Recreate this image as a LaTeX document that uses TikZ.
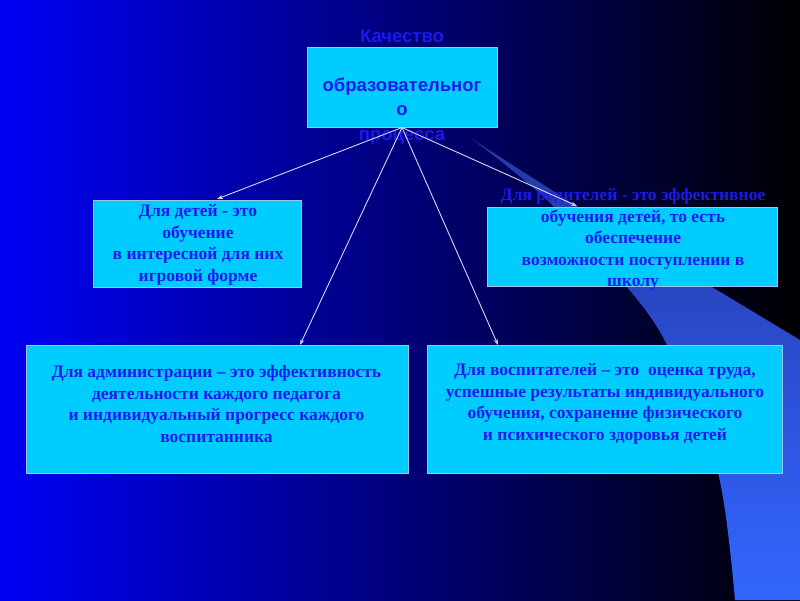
\documentclass[tikz,border=0pt]{standalone}
\usepackage{fontspec}
\setmainfont{Liberation Serif}
\newfontfamily\arialf{Liberation Sans}
\usetikzlibrary{arrows.meta}
\definecolor{boxfill}{RGB}{0,204,255}
\definecolor{boxline}{RGB}{150,200,240}
\definecolor{txtblue}{RGB}{26,26,238}
\definecolor{bgblue}{RGB}{0,0,245}
\definecolor{swtop}{RGB}{35,55,165}
\definecolor{swbot}{RGB}{51,102,255}
\definecolor{arrowc}{RGB}{215,215,240}
\tikzset{
  box/.style={draw=boxline, line width=1pt, fill=boxfill, rectangle, inner sep=0pt},
  serift/.style={text=txtblue, align=center, font=\fontsize{17.5}{21.6}\selectfont\bfseries, inner sep=0pt},
  sanst/.style={text=txtblue, align=center, font=\arialf\fontsize{18.5}{24.5}\selectfont\bfseries, inner sep=0pt},
  conn/.style={draw=arrowc, line width=0.9pt, -{Stealth[length=6pt,width=4pt]}},
  swoosh/.style={top color=swtop, bottom color=swbot}
}
\begin{document}
\begin{tikzpicture}[x=1pt,y=-1pt]
\useasboundingbox (0,0) rectangle (800,600);
\shade[left color=bgblue, right color=black] (0,0) rectangle (800,600);
% decorative swoosh
\fill[swoosh] (472,139) -- (575,205) -- (712,287) -- (800,340) -- (800,600) -- (735,600)
  -- plot[smooth] coordinates {(735,600) (718,473) (668,347) (627,287) (547,200) (472,139)} -- cycle;
% boxes
\node[box, minimum width=190pt, minimum height=80pt] (q) at (402,87) {};
\node[box, minimum width=208pt, minimum height=87pt] (kids) at (197,243.5) {};
\node[box, minimum width=290pt, minimum height=79pt] (par) at (632,246.5) {};
\node[box, minimum width=382pt, minimum height=128pt] (adm) at (217,409.5) {};
\node[box, minimum width=355pt, minimum height=128pt] (edu) at (604.5,409.5) {};
% texts
\node[sanst] (qt) at (402,87) {Качество\\ \\образовательног\\о\\процесса};
\node[serift] (kidst) at (198,245) {Для детей - это\\обучение\\в интересной для них\\игровой форме};
\node[serift] (part) at (633,239.5) {Для родителей - это эффективное\\обучения детей, то есть\\обеспечение\\возможности поступлении в\\школу};
\node[serift] (admt) at (216.5,404) {Для администрации -- это эффективность\\деятельности каждого педагога\\и индивидуальный прогресс каждого\\воспитанника};
\node[serift] (edut) at (605,404) {Для воспитателей -- это\ \ оценка труда,\\успешные результаты индивидуального\\обучения, сохранение физического\\и психического здоровья детей};
% connector end points
\coordinate (ekids) at (217,199);
\coordinate (eadm) at (300,345);
\coordinate (eedu) at (498,345);
\coordinate (epar) at (577,206);
\draw[conn] (q.south) -- (ekids);
\draw[conn] (q.south) -- (eadm);
\draw[conn] (q.south) -- (eedu);
\draw[conn] (q.south) -- (epar);
\end{tikzpicture}
\end{document}
